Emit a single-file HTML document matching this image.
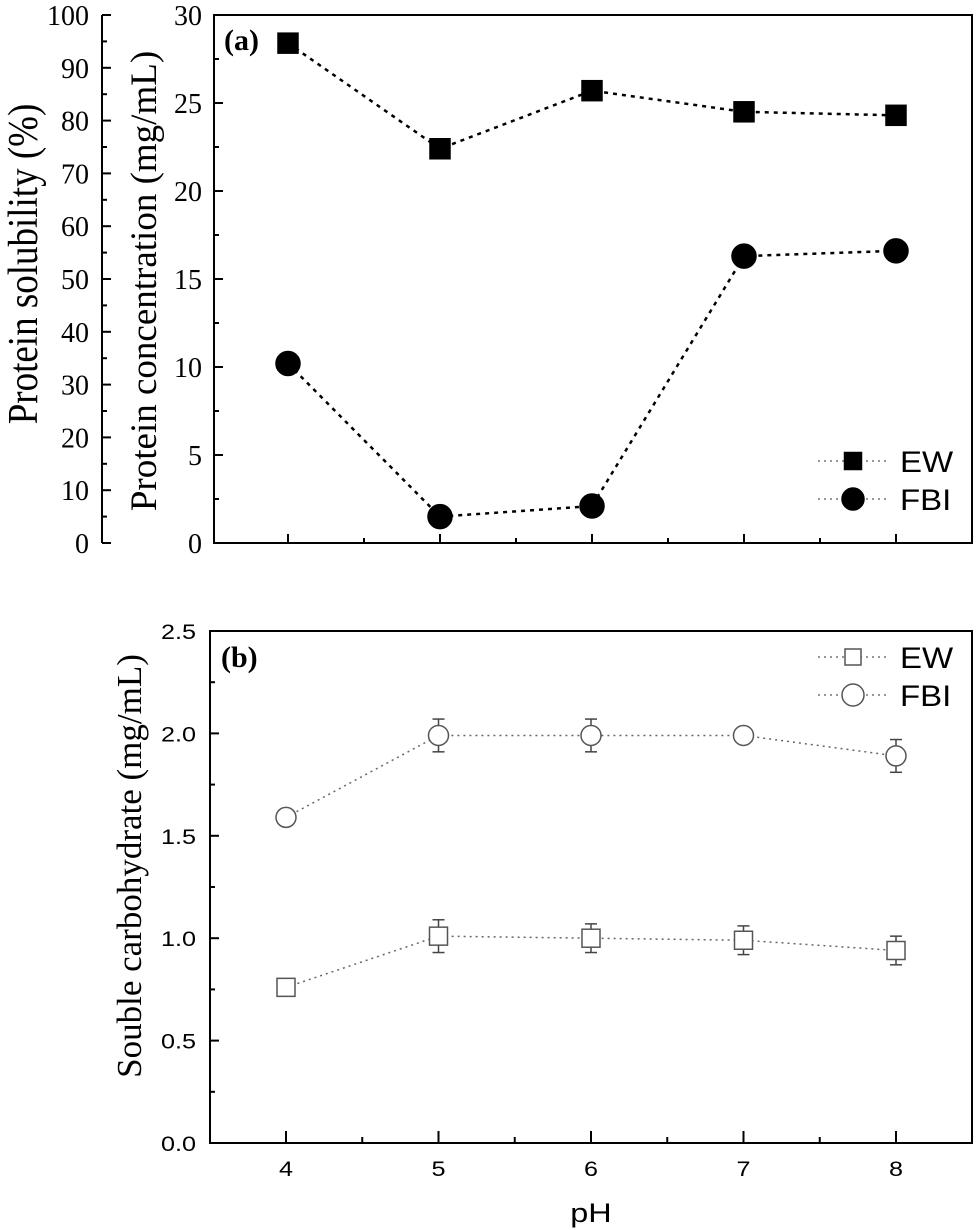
<!DOCTYPE html>
<html><head><meta charset="utf-8"><style>
html,body{margin:0;padding:0;background:#fff}
svg{display:block}
.serif{font-family:"Liberation Serif",serif}
.sans{font-family:"Liberation Sans",sans-serif}
</style></head><body>
<svg id="fig" width="977" height="1230" viewBox="0 0 977 1230" xmlns="http://www.w3.org/2000/svg"></svg>
<script>
const phCategories=[4,5,6,7,8];
const ewConc=[28.4,22.4,25.7,24.5,24.3];
const ewConcErr=[0.2,0.5,0.2,0.2,0.2];
const fbiConc=[10.2,1.5,2.1,16.3,16.6];
const fbiConcErr=[0.2,0.2,0.2,0.2,0.5];
const concTicks=[0,5,10,15,20,25,30];
const solTicks=[0,10,20,30,40,50,60,70,80,90,100];
const ewCarb=[0.76,1.01,1.0,0.99,0.94];
const ewCarbErr=[0.03,0.08,0.07,0.07,0.07];
const fbiCarb=[1.59,1.99,1.99,1.99,1.89];
const fbiCarbErr=[0.03,0.08,0.08,0.03,0.08];
const carbTicks=[0.0,0.5,1.0,1.5,2.0,2.5];

const NS="http://www.w3.org/2000/svg";
const svg=document.getElementById('fig');
function mk(tag,attrs,parent){const e=document.createElementNS(NS,tag);for(const k in attrs)e.setAttribute(k,attrs[k]);(parent||svg).appendChild(e);return e;}
function txt(s,attrs,parent){const e=mk('text',attrs,parent);e.textContent=s;return e;}
function stxt(s,x,y,sx,attrs,parent){const g=mk('g',{transform:'translate('+x+','+y+') scale('+sx+',1)'},parent);const e=mk('text',Object.assign({x:0,y:0},attrs),g);e.textContent=s;return e;}

const A={l:214,r:972,t:15,b:543};
const xA=v=>288+(v-4)*152;
const yA=v=>A.b-(v/30)*(A.b-A.t);
const ySol=v=>A.b-(v/100)*(A.b-A.t);
const B={l:210,r:972,t:631,b:1143};
const xB=v=>286+(v-4)*152.5;
const yB=v=>B.b-(v/2.5)*(B.b-B.t);

const gA=mk('g',{});


let fa=mk('rect',{x:A.l,y:A.t,width:A.r-A.l,height:A.b-A.t,fill:'none',stroke:'#000','stroke-width':2},gA);

concTicks.forEach((v,i)=>{
  const y=yA(v);
  mk('line',{x1:A.l,x2:A.l+9,y1:y,y2:y,stroke:'#000','stroke-width':2},gA);
  if(i<concTicks.length-1){const ym=yA(v+2.5);mk('line',{x1:A.l,x2:A.l+5,y1:ym,y2:ym,stroke:'#000','stroke-width':2},gA);}
  const t=txt(String(v),{x:A.l-12,y:y+10,'text-anchor':'end','font-size':28,class:'serif'},gA);
  
});
let sl=mk('line',{x1:102,x2:102,y1:A.t,y2:A.b,stroke:'#000','stroke-width':2},gA);

solTicks.forEach((v,i)=>{
  const y=ySol(v);
  mk('line',{x1:102,x2:111,y1:y,y2:y,stroke:'#000','stroke-width':2},gA);
  if(i<solTicks.length-1){const ym=ySol(v+5);mk('line',{x1:102,x2:107,y1:ym,y2:ym,stroke:'#000','stroke-width':2},gA);}
  const t=txt(String(v),{x:89,y:y+10,'text-anchor':'end','font-size':28,class:'serif'},gA);
  
});
phCategories.forEach((v,i)=>{
  const x=xA(v);
  mk('line',{x1:x,x2:x,y1:A.b,y2:A.b-9,stroke:'#000','stroke-width':2},gA);
  if(i<phCategories.length-1){const xm=xA(v+0.5);mk('line',{x1:xm,x2:xm,y1:A.b,y2:A.b-5,stroke:'#000','stroke-width':2},gA);}
});
let t1=txt('Protein solubility (%)',{x:0,y:0,transform:'translate(37,264) rotate(-90) scale(1,1.15)','text-anchor':'middle','font-size':37,class:'serif'},gA);

let t2=txt('Protein concentration (mg/mL)',{x:0,y:0,transform:'translate(156,281) rotate(-90)','text-anchor':'middle','font-size':37,class:'serif'},gA);

let la=txt('(a)',{x:224,y:50,'font-size':30,'font-weight':'bold',class:'serif'},gA);


function series(xs,ys,errs,xf,yf,shape,filled,dash,width,name,g){
  const pts=xs.map((v,i)=>xf(v)+','+yf(ys[i])).join(' ');
  const pl=mk('polyline',{points:pts,fill:'none',stroke:filled?'#000':'#666','stroke-width':width,'stroke-dasharray':dash},g);
  
  xs.forEach((v,i)=>{
    const x=xf(v),y=yf(ys[i]),y1=yf(ys[i]+errs[i]),y2=yf(ys[i]-errs[i]);
    const col=filled?'#000':'#444';
    mk('line',{x1:x,x2:x,y1:y1,y2:y2,stroke:col,'stroke-width':1.5},g);
    mk('line',{x1:x-6,x2:x+6,y1:y1,y2:y1,stroke:col,'stroke-width':1.5},g);
    mk('line',{x1:x-6,x2:x+6,y1:y2,y2:y2,stroke:col,'stroke-width':1.5},g);
    let m;
    if(shape==='sq'){const s=filled?20:18;m=mk('rect',{x:x-s/2,y:y-s/2,width:s,height:s,fill:filled?'#000':'#fff',stroke:filled?'#000':'#555','stroke-width':1.5},g);}
    else{m=mk('circle',{cx:x,cy:y,r:filled?12:10,fill:filled?'#000':'#fff',stroke:filled?'#000':'#555','stroke-width':1.5},g);}
    
  });
}
series(phCategories,ewConc,ewConcErr,xA,yA,'sq',true,'4 5',2.5,'ew-conc',gA);
series(phCategories,fbiConc,fbiConcErr,xA,yA,'ci',true,'4 5',2.5,'fbi-conc',gA);

function legend(g,y0,filled){
  const items=[['EW','sq'],['FBI','ci']];
  items.forEach((it,i)=>{
    const y=y0+i*38;
    const lg=mk('g',{},g);
    
    mk('line',{x1:818,x2:888,y1:y,y2:y,stroke:'#777','stroke-width':1.5,'stroke-dasharray':'2 4'},lg);
    if(it[1]==='sq'){const s=filled?17:16;mk('rect',{x:853-s/2,y:y-s/2,width:s,height:s,fill:filled?'#000':'#fff',stroke:filled?'#000':'#555','stroke-width':1.5},lg);}
    else mk('circle',{cx:853,cy:y,r:11,fill:filled?'#000':'#fff',stroke:filled?'#000':'#555','stroke-width':1.5},lg);
    stxt(it[0],900,y+11,1.1,{'font-size':30,class:'sans'},lg);
  });
}
legend(gA,461,true);

const gB=mk('g',{});


let fb=mk('rect',{x:B.l,y:B.t,width:B.r-B.l,height:B.b-B.t,fill:'none',stroke:'#000','stroke-width':2},gB);

carbTicks.forEach((v,i)=>{
  const y=yB(v);
  mk('line',{x1:B.l,x2:B.l+9,y1:y,y2:y,stroke:'#000','stroke-width':2},gB);
  if(i<carbTicks.length-1){const ym=yB(v+0.25);mk('line',{x1:B.l,x2:B.l+5,y1:ym,y2:ym,stroke:'#000','stroke-width':2},gB);}
  const t=stxt(v.toFixed(1),B.l-14,y+8,1.2,{'text-anchor':'end','font-size':21,class:'sans'},gB);
  
});
phCategories.forEach((v,i)=>{
  const x=xB(v);
  mk('line',{x1:x,x2:x,y1:B.b,y2:B.b-12,stroke:'#000','stroke-width':2},gB);
  if(i<phCategories.length-1){const xm=xB(v+0.5);mk('line',{x1:xm,x2:xm,y1:B.b,y2:B.b-6,stroke:'#000','stroke-width':2},gB);}
  const t=stxt(String(v),x,B.b+33,1.2,{'text-anchor':'middle','font-size':21,class:'sans'},gB);
  
});
let xt=stxt('pH',591,1222,1.2,{'text-anchor':'middle','font-size':27,class:'sans'},gB);

let yt=txt('Souble carbohydrate (mg/mL)',{x:0,y:0,transform:'translate(141,866) rotate(-90)','text-anchor':'middle','font-size':35,class:'serif'},gB);

let lb=txt('(b)',{x:221,y:667,'font-size':30,'font-weight':'bold',class:'serif'},gB);

series(phCategories,ewCarb,ewCarbErr,xB,yB,'sq',false,'2 4',1.5,'ew-carb',gB);
series(phCategories,fbiCarb,fbiCarbErr,xB,yB,'ci',false,'2 4',1.5,'fbi-carb',gB);
legend(gB,657,false);
</script>
</body></html>
